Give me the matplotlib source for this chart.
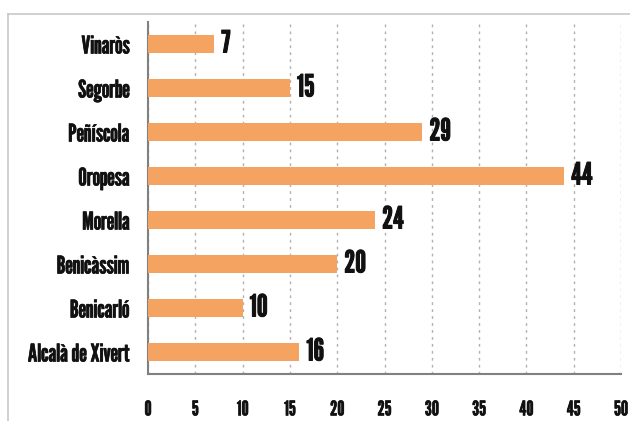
import matplotlib
matplotlib.use("Agg")
import matplotlib.pyplot as plt
import matplotlib.patheffects as pe
from matplotlib.lines import Line2D

categories = ["Alcalà de Xivert", "Benicarló", "Benicàssim", "Morella",
              "Oropesa", "Peñíscola", "Segorbe", "Vinaròs"]
values = [16, 10, 20, 24, 44, 29, 15, 7]
xticks = [0, 5, 10, 15, 20, 25, 30, 35, 40, 45, 50]

FONT = ["League Gothic", "DejaVu Sans"]
bar_color = "#F4A460"
txt_color = "#111111"
bold_small = [pe.withStroke(linewidth=0.45, foreground=txt_color)]
bold_big = [pe.withStroke(linewidth=0.7, foreground=txt_color)]

fig = plt.figure(figsize=(6.3, 4.21), dpi=100)
ax = fig.add_axes([148/630, 1-374/421, (621-148)/630, (374-22)/421])

y = list(range(len(categories)))
ax.barh(y, values, height=0.4, color=bar_color, zorder=3)
for yi, v in zip(y, values):
    ax.annotate(str(v), (v, yi), xytext=(5, 0), textcoords="offset points",
                ha="left", va="center", fontsize=22,
                family=FONT, color=txt_color, path_effects=bold_big)

ax.set_xlim(0, 50)
ax.set_ylim(-0.5, len(categories) - 0.5)
ax.set_yticks(y)
ax.set_yticklabels(categories, family=FONT, fontsize=17.5, color=txt_color)
ax.set_xticks(xticks)
ax.set_xticklabels([str(t) for t in xticks], family=FONT, fontsize=14.5, color=txt_color)
for lab in ax.get_yticklabels() + ax.get_xticklabels():
    lab.set_path_effects(bold_small)
ax.tick_params(axis="y", length=0, pad=13)
ax.tick_params(axis="x", length=0, pad=19)

ax.grid(axis="x", linestyle=(0, (2, 3)), color="#b0b0b0", linewidth=1, zorder=0)
ax.set_axisbelow(True)
for s in ["top", "right"]:
    ax.spines[s].set_visible(False)
for s in ["left", "bottom"]:
    ax.spines[s].set_color("#808080")
    ax.spines[s].set_linewidth(1.5)

# outer frame
fig.add_artist(Line2D([8/630, 8/630], [0, 1-14/421], transform=fig.transFigure,
                      color="#c8c8c8", linewidth=1.2))
fig.add_artist(Line2D([8/630, 1], [1-14/421, 1-14/421], transform=fig.transFigure,
                      color="#c8c8c8", linewidth=1.2))

fig.savefig("out.png", dpi=100)
